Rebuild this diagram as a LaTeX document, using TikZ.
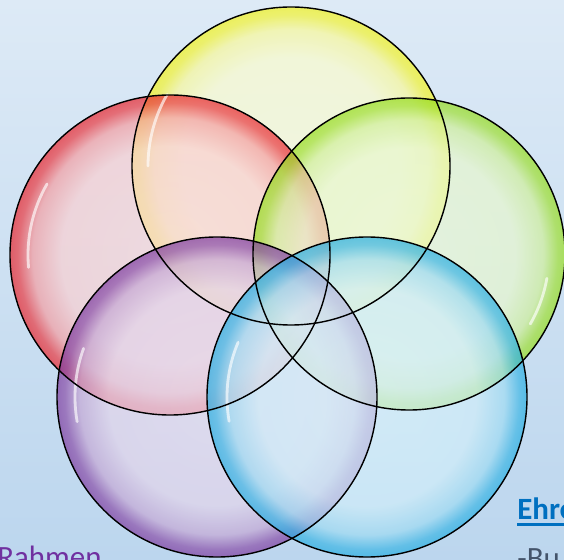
\documentclass[tikz,border=0pt]{standalone}
\usepackage{fontspec}
\setmainfont{Carlito}
\usepackage{xcolor}
\usepackage{tikz}
\usetikzlibrary{positioning,calc}

\definecolor{bgtop}{HTML}{DDEAF6}
\definecolor{bgbottom}{HTML}{BCD6EE}
\definecolor{bubyellow}{HTML}{F2F21E}
\definecolor{bubred}{HTML}{E8262E}
\definecolor{bubgreen}{HTML}{96DC1E}
\definecolor{bubpurple}{HTML}{7E3CA0}
\definecolor{bubblue}{HTML}{28AEE2}
\definecolor{rahmencol}{HTML}{7030A0}
\definecolor{ehrecol}{HTML}{0070C0}
\definecolor{bulletcol}{HTML}{44546A}

% one radial shading per bubble colour (25bp = rim of the circle)
\newcommand{\bubbleshading}[2]{%
  \pgfdeclareradialshading{#1}{\pgfpoint{0bp}{0bp}}{%
    color(0bp)=(#2!18!white); color(17bp)=(#2!22!white);
    color(21.5bp)=(#2!45!white); color(23.8bp)=(#2!90!white);
    color(25bp)=(#2); color(50bp)=(#2)}}
\bubbleshading{shyellow}{bubyellow}
\bubbleshading{shred}{bubred}
\bubbleshading{shgreen}{bubgreen}
\bubbleshading{shpurple}{bubpurple}
\bubbleshading{shblue}{bubblue}

\begin{document}
\begin{tikzpicture}[
    x=0.025cm, y=0.025cm,
    bubble/.style={fill opacity=0.7},
    rim/.style={draw=black, line width=1pt},
    gloss/.style={draw=white, line width=2pt, line cap=round, opacity=0.65},
    slidetext/.style={anchor=base west, inner sep=0pt, font=\fontsize{22}{26}\selectfont}
]
\useasboundingbox (0,0) rectangle (564,559);
\clip (0,0) rectangle (564,559);
\shade[top color=bgtop, bottom color=bgbottom] (0,0) rectangle (564,559);

% bubbles
\path[bubble, shading=shyellow] (291,393) circle[radius=159];
\path[bubble, shading=shred] (170,304) circle[radius=160];
\path[bubble, shading=shgreen] (409,305) circle[radius=156];
\path[bubble, shading=shpurple] (217,162) circle[radius=160];
\path[bubble, shading=shblue] (367,162) circle[radius=160];

% glossy streaks
\draw[gloss] ([shift={(150:143)}]291,393) arc[start angle=150, end angle=180, radius=143];
\draw[gloss] ([shift={(150:142)}]170,304) arc[start angle=150, end angle=185, radius=142];
\draw[gloss] ([shift={(-30:140)}]409,305) arc[start angle=-30, end angle=-10, radius=140];
\draw[gloss] ([shift={(160:142)}]217,162) arc[start angle=160, end angle=190, radius=142];
\draw[gloss] ([shift={(157:140)}]367,162) arc[start angle=157, end angle=190, radius=140];

% outlines on top
\draw[rim] (291,393) circle[radius=159];
\draw[rim] (170,304) circle[radius=160];
\draw[rim] (409,305) circle[radius=156];
\draw[rim] (217,162) circle[radius=160];
\draw[rim] (367,162) circle[radius=160];

% cut-off slide text
\node[slidetext, text=rahmencol] (rahmen) at (-3,-8) {Rahmen};
\node[slidetext, text=ehrecol, font=\fontsize{22}{26}\selectfont\bfseries] (ehre) at (517,40) {Ehre};
\draw[ehrecol, line width=2pt] ([yshift=-4]ehre.base west) -- ([yshift=-4]ehre.base east);
\node[slidetext, text=bulletcol] (bullet) at (517,-9) {-Bu};
\end{tikzpicture}
\end{document}
